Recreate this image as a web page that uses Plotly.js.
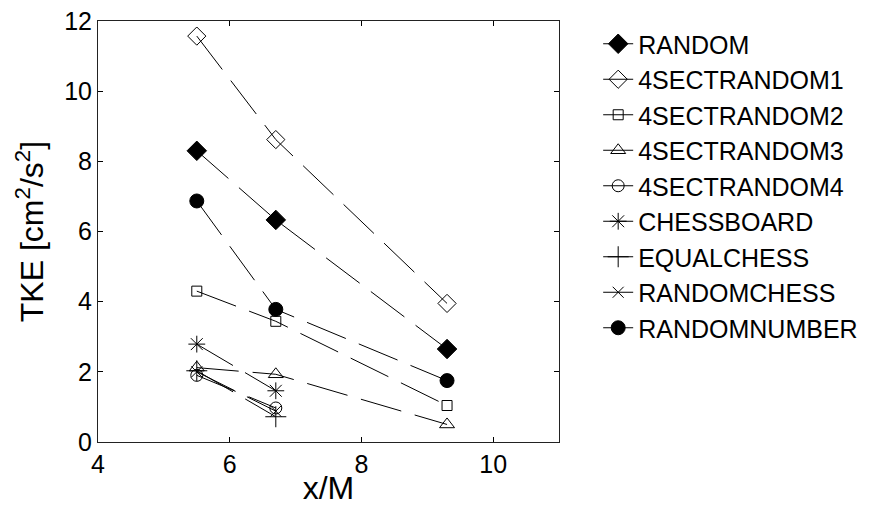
<!DOCTYPE html>
<html><head><meta charset="utf-8">
<script src="https://cdn.plot.ly/plotly-3.0.1.min.js"></script>
<style>html,body{margin:0;padding:0;background:#fff}</style>
</head><body><div id="chart" style="width:891px;height:506px"></div>
<script>
const seriesNames = ["RANDOM","4SECTRANDOM1","4SECTRANDOM2","4SECTRANDOM3","4SECTRANDOM4","CHESSBOARD","EQUALCHESS","RANDOMCHESS","RANDOMNUMBER"];
const xRANDOM = [5.5, 6.7, 9.3];
const yRANDOM = [8.3, 6.33, 2.65];
const x4SR1 = [5.5, 6.7, 9.3];
const y4SR1 = [11.57, 8.62, 3.95];
const x4SR2 = [5.5, 6.7, 9.3];
const y4SR2 = [4.3, 3.44, 1.04];
const x4SR3 = [5.5, 6.7, 9.3];
const y4SR3 = [2.12, 1.93, 0.5];
const x4SR4 = [5.5, 6.7];
const y4SR4 = [1.9, 0.97];
const xCHESS = [5.5, 6.7];
const yCHESS = [2.79, 1.46];
const xEQUAL = [5.5, 6.7];
const yEQUAL = [2.03, 0.72];
const xRCHESS = [5.5, 6.7];
const yRCHESS = [2.0, 0.88];
const xRNUM = [5.5, 6.7, 9.3];
const yRNUM = [6.87, 3.78, 1.75];

const xs = [xRANDOM, x4SR1, x4SR2, x4SR3, x4SR4, xCHESS, xEQUAL, xRCHESS, xRNUM];
const ys = [yRANDOM, y4SR1, y4SR2, y4SR3, y4SR4, yCHESS, yEQUAL, yRCHESS, yRNUM];
const symbols = ["diamond","diamond-open","square-open","triangle-up-open","circle-open","asterisk-open","cross-thin-open","x-thin-open","circle"];
const sizes = [15, 14, 10, 13, 12, 14, 15, 11, 14];

const traces = seriesNames.map((n,i)=>({
  type:"scatter", mode:"lines+markers", name:n, x:xs[i], y:ys[i],
  legendgroup:"g"+i,
  line:{color:"#000", width:1, dash:"42px,14px"},
  marker:{symbol:symbols[i], size:sizes[i], color:"#000", line:{color:"#000", width:1}}
}));

const layout = {
  width:891, height:506,
  margin:{l:98, r:332, t:21, b:64},
  paper_bgcolor:"#fff", plot_bgcolor:"#fff",
  font:{family:"Liberation Sans, Arial, sans-serif", color:"#000", size:25},
  showlegend:true,
  legend:{x:1.085, y:1.0, xanchor:"left", yanchor:"top", traceorder:"grouped", tracegroupgap:0,
          font:{size:25}, bgcolor:"rgba(0,0,0,0)"},
  xaxis:{range:[4,11], dtick:2, tick0:4, ticks:"inside", ticklen:5, tickcolor:"#000",
         showline:true, linecolor:"#222", linewidth:1, mirror:"allticks", showgrid:false, zeroline:false,
         tickfont:{size:25}, title:{text:"x/M", font:{size:32}, standoff:4}},
  yaxis:{range:[0,12], dtick:2, tick0:0, ticks:"inside", ticklen:5, tickcolor:"#000",
         showline:true, linecolor:"#222", linewidth:1, mirror:"allticks", showgrid:false, zeroline:false,
         tickfont:{size:25}, title:{text:"TKE [cm<sup>2</sup>/s<sup>2</sup>]", font:{size:32}, standoff:10}}
};
Plotly.newPlot("chart", traces, layout, {displayModeBar:false, staticPlot:true});
</script></body></html>
